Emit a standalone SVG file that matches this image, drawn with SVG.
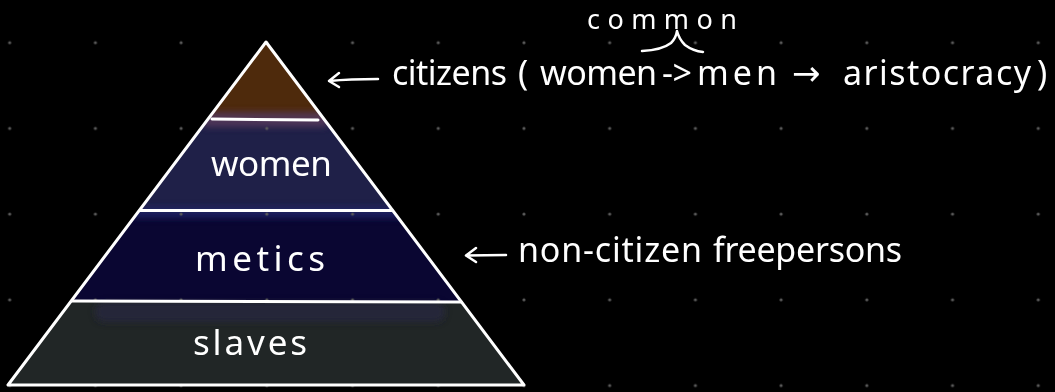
<svg xmlns="http://www.w3.org/2000/svg" width="1055" height="392" viewBox="0 0 1055 392">
  <defs>
    <pattern id="dots" patternUnits="userSpaceOnUse" x="-33.16" y="-0.16" width="85.714" height="85.714">
      <circle cx="42.857" cy="42.857" r="1.6" fill="#5a5a5a"/>
    </pattern>
    <clipPath id="tri">
      <polygon points="266,42 8,385 524,385"/>
    </clipPath>
    <filter id="soft" x="-20%" y="-200%" width="140%" height="500%">
      <feGaussianBlur stdDeviation="3"/>
    </filter>
  </defs>
  <style>
    .lbl { font-family: "Noto Sans", "DejaVu Sans", sans-serif; fill: #ffffff; }
    .layer { font-size: 35px; }
    .note { font-size: 34px; }
    .edge { stroke: #ffffff; stroke-width: 3; fill: none; stroke-linecap: round; stroke-linejoin: round; }
    .hand { stroke: #ffffff; stroke-width: 2.5; fill: none; stroke-linecap: round; stroke-linejoin: round; }
  </style>

  <rect width="1055" height="392" fill="#000000"/>

  <g id="pyramid-fills" clip-path="url(#tri)">
    <rect id="fill-top" x="0" y="40" width="540" height="80" fill="#4e2a0c"/>
    <rect id="fill-women" x="0" y="119" width="540" height="92" fill="#1f2048"/>
    <rect id="fill-metics" x="0" y="210" width="540" height="92" fill="#0a0632"/>
    <rect id="fill-slaves" x="0" y="301" width="540" height="90" fill="#212626"/>
    <g filter="url(#soft)">
      <rect x="200" y="112" width="130" height="15" rx="7" fill="#53395a" opacity="0.9"/>
      <rect x="130" y="207" width="280" height="11" rx="5" fill="#22286a" opacity="0.8"/>
      <rect x="95" y="302" width="350" height="20" rx="9" fill="#25283f" opacity="0.8"/>
    </g>
  </g>

  <rect width="1055" height="392" fill="url(#dots)"/>

  <g id="pyramid-outline">
    <polygon class="edge" points="266,42 8,385 524,385"/>
    <line class="edge" x1="212" y1="119" x2="318" y2="120"/>
    <line class="edge" x1="140" y1="210.5" x2="392" y2="210.5"/>
    <line class="edge" x1="72" y1="301" x2="461" y2="302"/>
  </g>

  <g id="node-citizens">
    <text class="lbl note" x="392" y="85" textLength="115" lengthAdjust="spacing">citizens</text>
    <text class="lbl note" x="518" y="85">(</text>
    <text class="lbl note" x="540" y="85" textLength="117" lengthAdjust="spacing">women</text>
    <text class="lbl note" x="662" y="85" textLength="30" lengthAdjust="spacing">-&gt;</text>
    <text class="lbl note" x="697" y="85" textLength="80" lengthAdjust="spacing">men</text>
    <text class="lbl note" x="792" y="85">→</text>
    <text class="lbl note" x="843" y="85" textLength="188" lengthAdjust="spacing">aristocracy</text>
    <text class="lbl note" x="1037" y="85">)</text>
  </g>

  <g id="node-common">
    <text class="lbl" style="font-size:27px" x="587" y="29" textLength="150" lengthAdjust="spacing">common</text>
    <path class="hand" d="M642,51 Q662,50 671,43 Q676,38 677,31 Q679,39 685,45 Q693,51 703,52"/>
  </g>

  <g id="node-women">
    <text class="lbl layer" x="211" y="176" textLength="121" lengthAdjust="spacing">women</text>
  </g>
  <g id="node-metics">
    <text class="lbl layer" x="195" y="271" textLength="130" lengthAdjust="spacing">metics</text>
  </g>
  <g id="node-slaves">
    <text class="lbl layer" x="193" y="355" textLength="114" lengthAdjust="spacing">slaves</text>
  </g>

  <g id="node-noncitizen">
    <text class="lbl note" x="518" y="262" textLength="184" lengthAdjust="spacing">non-citizen</text>
    <text class="lbl note" x="713" y="262" textLength="189" lengthAdjust="spacing">freepersons</text>
  </g>

  <g id="connectors">
    <path class="hand" d="M378,79 Q350,79 329,81 M339,73 L329,81 L339,87"/>
    <path class="hand" d="M506,255 Q485,255 466,255.5 M476,248 L466,255.5 L476,262"/>
  </g>
</svg>
